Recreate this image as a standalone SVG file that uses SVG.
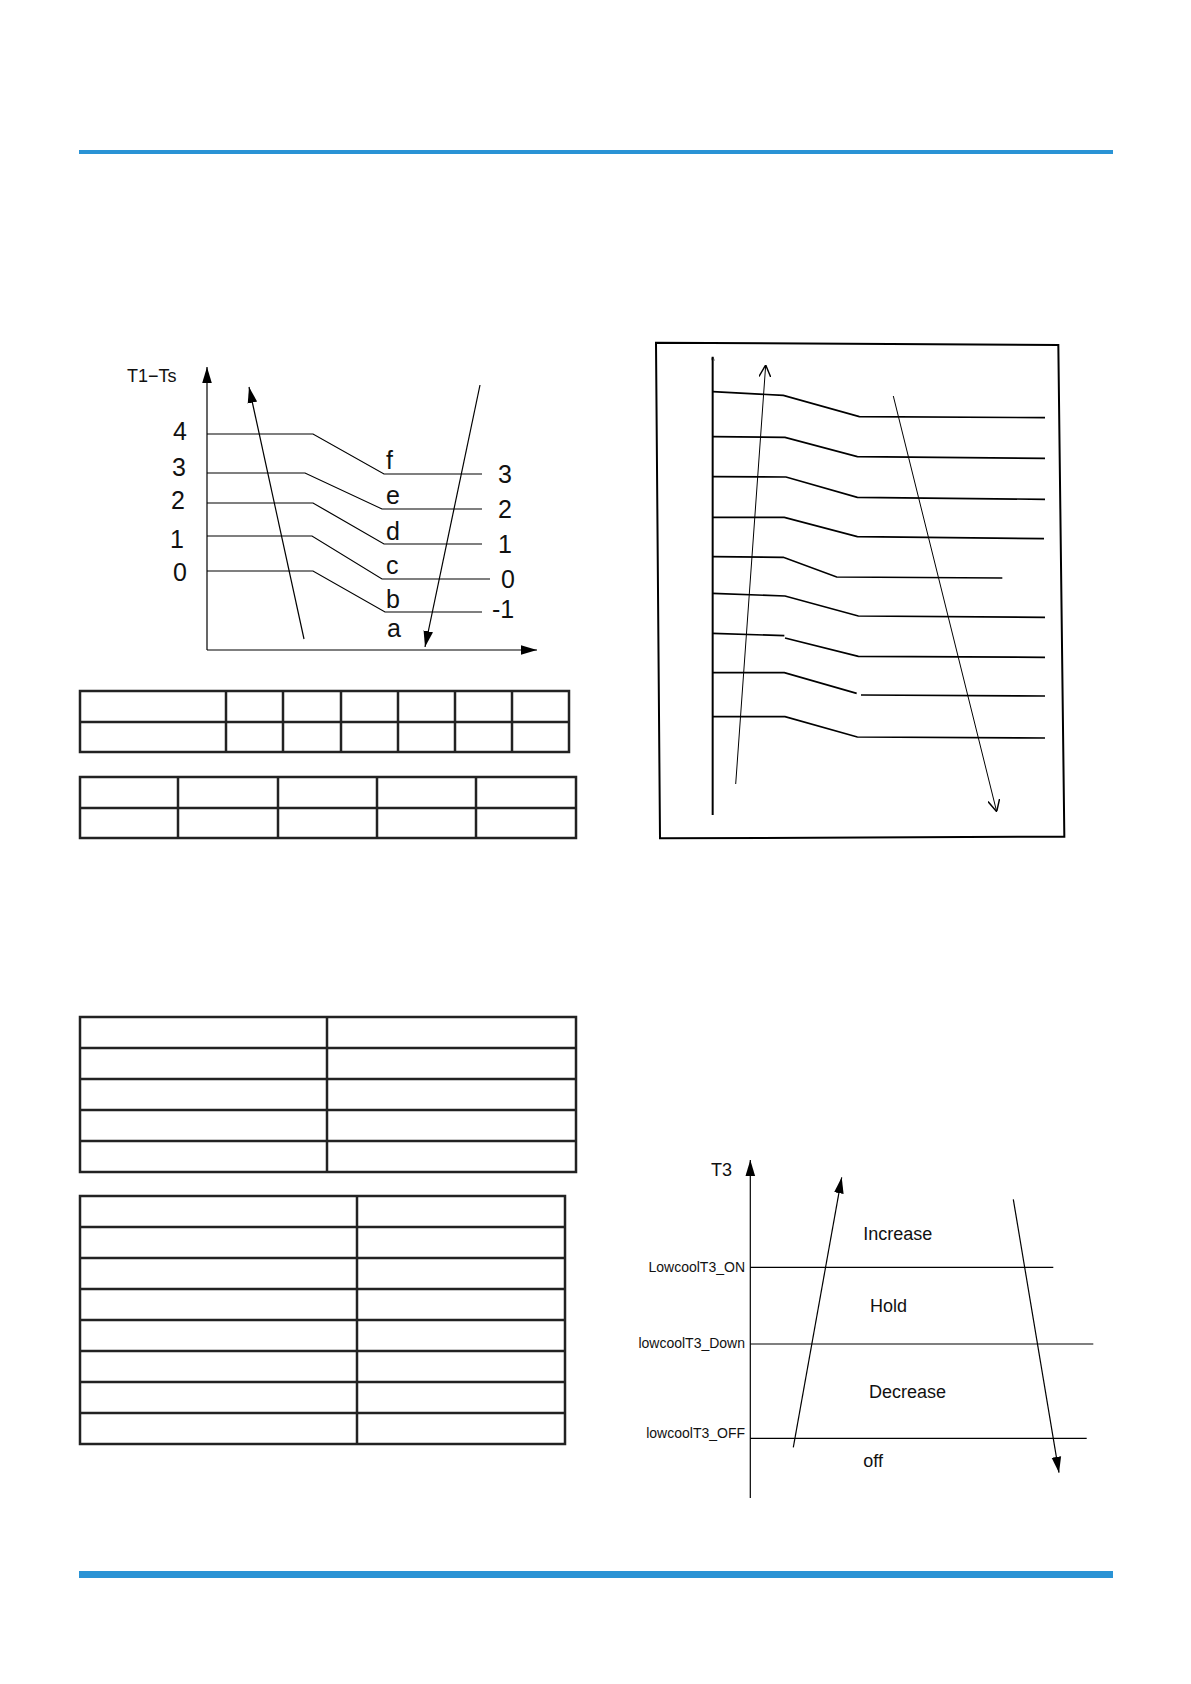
<svg xmlns="http://www.w3.org/2000/svg" width="1191" height="1684" viewBox="0 0 1191 1684">
<style>
.ln{fill:none;stroke:#000;stroke-width:1.2}
.tb{fill:none;stroke:#222;stroke-width:2.5}
.t{font-family:"Liberation Sans",Arial,sans-serif;fill:#111}
.big{font-size:25px}
.mid{font-size:18px}
.sm{font-size:14px}
</style>
<defs>
<marker id="fa" viewBox="0 0 10 10" refX="10" refY="5" markerWidth="10" markerHeight="10" markerUnits="userSpaceOnUse" orient="auto"><path d="M0,1.5 L10,5 L0,8.5 Z" fill="#000"/></marker>
<marker id="fa2" viewBox="0 0 10 10" refX="10" refY="5" markerWidth="16" markerHeight="16" markerUnits="userSpaceOnUse" orient="auto"><path d="M0,2 L10,5 L0,8 Z" fill="#000"/></marker>
<marker id="oa" viewBox="0 0 10 10" refX="10" refY="5" markerWidth="12" markerHeight="12" markerUnits="userSpaceOnUse" orient="auto"><path d="M0,0 L10,5 L0,10" fill="none" stroke="#000" stroke-width="1.2"/></marker>
</defs>
<g id="rules">
<rect x="79" y="150" width="1034" height="4" fill="#2a93d5"/>
<rect x="79" y="1571" width="1034" height="7" fill="#2a93d5"/>
</g>
<g id="chart1">
<line class="ln" x1="207" y1="650" x2="207" y2="367" stroke-width="2" marker-end="url(#fa2)"/>
<line class="ln" x1="207" y1="650" x2="537" y2="650" stroke-width="2" marker-end="url(#fa2)"/>
<polyline class="ln" points="207,434 313,434 384,474 482,474"/>
<polyline class="ln" points="207,473 305,473 382,509 482,509"/>
<polyline class="ln" points="207,503 313,503 384,544 482,544"/>
<polyline class="ln" points="207,536 312,536 382,579 490,579"/>
<polyline class="ln" points="207,571 313,571 385,612 482,612"/>
<text class="t mid" x="127" y="382">T1−Ts</text>
<g class="t big" text-anchor="middle">
<text x="180" y="440">4</text><text x="179" y="476">3</text><text x="178" y="509">2</text><text x="177" y="548">1</text><text x="180" y="581">0</text>
</g>
<g class="t big">
<text x="498" y="483">3</text><text x="498" y="518">2</text><text x="498" y="553">1</text><text x="501" y="588">0</text><text x="492" y="618">-1</text>
<text x="386" y="469">f</text><text x="386" y="504">e</text><text x="386" y="540">d</text><text x="386" y="574">c</text><text x="386" y="608">b</text><text x="387" y="637">a</text>
</g>
</g>
<g id="connectors">
<line class="ln" x1="304" y1="639" x2="249" y2="387" marker-end="url(#fa2)"/>
<line class="ln" x1="480" y1="385" x2="425" y2="647" marker-end="url(#fa2)"/>
</g>
<g id="table1" class="tb">
<rect x="80" y="691" width="489" height="61"/>
<line x1="80" y1="722" x2="569" y2="722"/>
<line x1="226" y1="691" x2="226" y2="752"/><line x1="283" y1="691" x2="283" y2="752"/><line x1="341" y1="691" x2="341" y2="752"/><line x1="398" y1="691" x2="398" y2="752"/><line x1="455" y1="691" x2="455" y2="752"/><line x1="512" y1="691" x2="512" y2="752"/>
</g>
<g id="table2" class="tb">
<rect x="80" y="777" width="496" height="61"/>
<line x1="80" y1="808" x2="576" y2="808"/>
<line x1="178" y1="777" x2="178" y2="838"/><line x1="278" y1="777" x2="278" y2="838"/><line x1="377" y1="777" x2="377" y2="838"/><line x1="476" y1="777" x2="476" y2="838"/>
</g>
<g id="table3" class="tb">
<rect x="80" y="1017" width="496" height="155"/>
<line x1="80" y1="1048" x2="576" y2="1048"/><line x1="80" y1="1079" x2="576" y2="1079"/><line x1="80" y1="1110" x2="576" y2="1110"/><line x1="80" y1="1141" x2="576" y2="1141"/>
<line x1="327" y1="1017" x2="327" y2="1172"/>
</g>
<g id="table4" class="tb">
<rect x="80" y="1196" width="485" height="248"/>
<line x1="80" y1="1227" x2="565" y2="1227"/><line x1="80" y1="1258" x2="565" y2="1258"/><line x1="80" y1="1289" x2="565" y2="1289"/><line x1="80" y1="1320" x2="565" y2="1320"/><line x1="80" y1="1351" x2="565" y2="1351"/><line x1="80" y1="1382" x2="565" y2="1382"/><line x1="80" y1="1413" x2="565" y2="1413"/>
<line x1="357" y1="1196" x2="357" y2="1444"/>
</g>
<g id="chart2" transform="translate(650,330) scale(0.33333)">
<polygon points="18,38 1225,45 1243,1520 30,1525" fill="none" stroke="#000" stroke-width="6"/>
<g fill="none" stroke="#000" stroke-width="5">
<line x1="188" y1="1455" x2="188" y2="80" stroke-width="6" marker-end="url(#oa)"/>
<polyline points="188,185 400,196 628,260 1185,263"/>
<polyline points="188,320 405,322 622,380 1185,385"/>
<polyline points="188,440 408,441 622,502 1185,508"/>
<polyline points="188,562 403,562 622,620 1182,626"/>
<polyline points="188,680 400,682 560,741 1057,744"/>
<polyline points="188,790 405,798 625,858 1185,862"/>
<polyline points="188,910 403,917"/><polyline points="405,924 625,979 1185,982"/>
<polyline points="188,1028 403,1028 620,1090"/><polyline points="633,1095 1185,1098"/>
<polyline points="188,1160 405,1160 622,1221 1185,1224"/>
</g>
</g>
<g id="chart2-arrows" class="ln">
<line x1="735.7" y1="784" x2="765.7" y2="365" stroke-width="1" marker-end="url(#oa)"/>
<line x1="893.3" y1="396" x2="996.7" y2="811.7" stroke-width="1" marker-end="url(#oa)"/>
</g>
<g id="chart3">
<line class="ln" x1="750.3" y1="1498" x2="750.3" y2="1160" marker-end="url(#fa2)"/>
<line class="ln" x1="750.3" y1="1267.3" x2="1053.3" y2="1267.3"/>
<line class="ln" x1="750.3" y1="1344" x2="1093.3" y2="1344"/>
<line class="ln" x1="750.3" y1="1438.3" x2="1086.7" y2="1438.3"/>
<text class="t mid" x="711" y="1176">T3</text>
<g class="t sm" text-anchor="end">
<text x="745" y="1271.7">LowcoolT3_ON</text>
<text x="745" y="1348.3">lowcoolT3_Down</text>
<text x="745" y="1437.7">lowcoolT3_OFF</text>
</g>
<g class="t mid">
<text x="863.3" y="1240">Increase</text>
<text x="870" y="1312.3">Hold</text>
<text x="869" y="1398.3">Decrease</text>
<text x="863.3" y="1467.3">off</text>
</g>
<line class="ln" x1="793.3" y1="1447.3" x2="841.7" y2="1177.3" marker-end="url(#fa2)"/>
<line class="ln" x1="1013.3" y1="1199.3" x2="1059" y2="1472.7" marker-end="url(#fa2)"/>
</g>
</svg>
